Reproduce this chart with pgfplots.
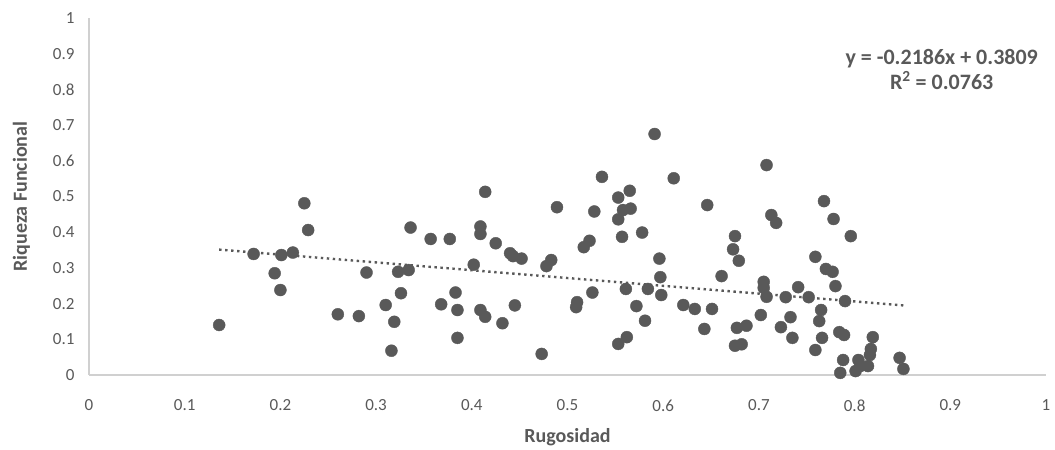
\documentclass[border=0pt]{standalone}
\usepackage{fontspec}
\setmainfont{Carlito}
\usepackage{pgfplots}
\pgfplotsset{compat=1.18}
\definecolor{txt}{HTML}{595959}
\definecolor{axl}{HTML}{D0D0D0}
\definecolor{mk}{HTML}{595959}
\begin{document}
\begin{tikzpicture}
\begin{axis}[
  scale only axis,
  width=957pt, height=357pt,
  xmin=0, xmax=1, ymin=0, ymax=1,
  axis lines*=left,
  axis line style={axl, line width=1.2pt},
  xtick={0,0.1,0.2,0.3,0.4,0.5,0.6,0.7,0.8,0.9,1},
  ytick={0,0.1,0.2,0.3,0.4,0.5,0.6,0.7,0.8,0.9,1},
  xticklabels={0,0.1,0.2,0.3,0.4,0.5,0.6,0.7,0.8,0.9,1},
  yticklabels={0,0.1,0.2,0.3,0.4,0.5,0.6,0.7,0.8,0.9,1},
  major tick length=0pt,
  ticklabel style={font=\fontsize{17}{20}\selectfont, text=txt},
  xticklabel style={yshift=-21pt},
  yticklabel style={xshift=-11pt},
  xlabel={Rugosidad},
  ylabel={Riqueza Funcional},
  every axis x label/.style={at={(axis description cs:0.5,0)}, anchor=center, yshift=-62pt, font=\fontsize{20}{24}\selectfont\bfseries, text=txt},
  every axis y label/.style={at={(axis description cs:-0.0705,0.5)}, anchor=center, rotate=90, font=\fontsize{20}{24}\selectfont\bfseries, text=txt},
  clip=false,
]
\addplot[only marks, mark=*, mark size=6pt, mark options={fill=mk, draw=mk}] table {
x y
0.136 0.140
0.172 0.339
0.194 0.285
0.200 0.238
0.201 0.336
0.213 0.343
0.225 0.481
0.229 0.406
0.260 0.170
0.282 0.165
0.290 0.287
0.310 0.196
0.316 0.068
0.319 0.149
0.323 0.289
0.326 0.229
0.334 0.294
0.336 0.413
0.357 0.381
0.368 0.198
0.377 0.381
0.383 0.231
0.385 0.182
0.385 0.104
0.402 0.309
0.409 0.416
0.409 0.395
0.409 0.182
0.414 0.513
0.414 0.163
0.425 0.369
0.432 0.145
0.440 0.341
0.443 0.333
0.445 0.195
0.452 0.326
0.473 0.059
0.478 0.305
0.483 0.322
0.489 0.470
0.509 0.190
0.510 0.204
0.517 0.358
0.523 0.376
0.526 0.231
0.528 0.458
0.536 0.555
0.553 0.497
0.553 0.436
0.553 0.087
0.557 0.387
0.558 0.462
0.561 0.241
0.562 0.106
0.565 0.516
0.566 0.466
0.572 0.193
0.578 0.399
0.581 0.152
0.584 0.241
0.591 0.675
0.596 0.326
0.597 0.274
0.598 0.224
0.611 0.551
0.621 0.196
0.633 0.185
0.643 0.129
0.646 0.476
0.651 0.185
0.661 0.277
0.675 0.082
0.675 0.389
0.673 0.352
0.679 0.320
0.677 0.132
0.682 0.086
0.687 0.138
0.702 0.168
0.705 0.261
0.705 0.244
0.708 0.219
0.708 0.588
0.713 0.448
0.718 0.426
0.723 0.134
0.728 0.218
0.733 0.162
0.735 0.104
0.741 0.246
0.752 0.218
0.759 0.331
0.759 0.070
0.763 0.151
0.765 0.182
0.766 0.104
0.768 0.487
0.770 0.297
0.777 0.289
0.778 0.437
0.780 0.249
0.784 0.120
0.789 0.112
0.785 0.006
0.788 0.042
0.790 0.207
0.796 0.389
0.801 0.011
0.804 0.042
0.806 0.025
0.814 0.025
0.816 0.056
0.817 0.073
0.819 0.106
0.847 0.048
0.851 0.017
};
\addplot[color=mk, line width=2.4pt, dash pattern=on 2.4pt off 3.6pt] coordinates {(0.136,0.3512) (0.851,0.1949)};
\node[font=\fontsize{22}{25}\selectfont\bfseries, text=txt, align=center, anchor=center] at (axis cs:0.891,0.856) {y = -0.2186x + 0.3809\\R\textsuperscript{2} = 0.0763};
\path[draw=none] (rel axis cs:-0.0930,-0.2073) rectangle (rel axis cs:1.0094,1.0504);
\end{axis}
\end{tikzpicture}
\end{document}
